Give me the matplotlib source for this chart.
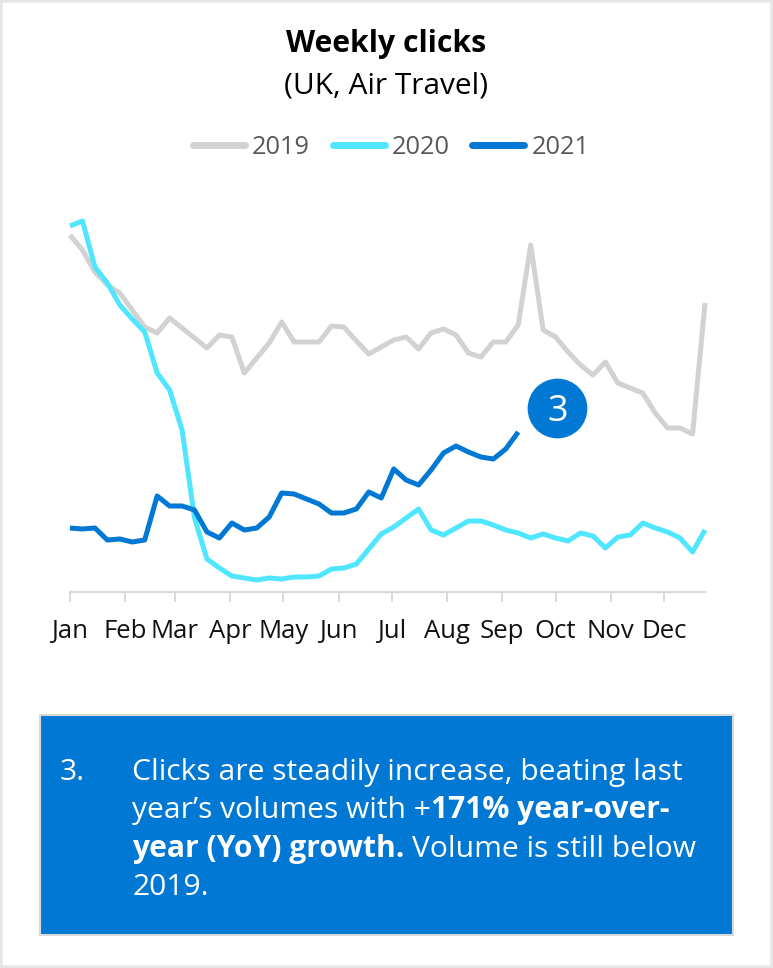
import matplotlib
matplotlib.use("Agg")
import matplotlib.pyplot as plt
import matplotlib.transforms as mtransforms
from matplotlib.patches import Rectangle
import numpy as np

plt.rcParams['font.family'] = ['Open Sans', 'DejaVu Sans']

# weekly click index, one value per week
clicks2019 = [357, 342, 320, 307, 299, 282, 265, 259, 274, 264, 254, 244, 257, 255, 219, 234,
              249, 270, 250, 250, 250, 266, 265, 251, 238, 245, 252, 255, 243, 259, 263, 257,
              239, 235, 250, 250, 267, 347, 262, 255, 240, 227, 217, 230, 209, 204, 199, 179,
              164, 164, 158, 289]
clicks2020 = [366, 371, 325, 309, 287, 273, 260, 219, 202, 162, 74, 33, 24, 16, 14, 12,
              14, 13, 15, 15, 16, 23, 24, 28, 43, 58, 65, 74, 83, 62, 57, 64,
              71, 71, 67, 62, 59, 54, 58, 54, 51, 59, 56, 44, 55, 57, 69, 64,
              60, 54, 40, 62]
clicks2021 = [64, 63, 64, 52, 53, 50, 52, 96, 86, 86, 82, 60, 54, 69, 62, 64,
              75, 99, 98, 93, 88, 79, 79, 83, 100, 94, 123, 112, 107, 122, 139, 146,
              140, 135, 133, 143, 160]

monthNames = ['Jan', 'Feb', 'Mar', 'Apr', 'May', 'Jun', 'Jul', 'Aug', 'Sep', 'Oct', 'Nov', 'Dec']
monthStartDay = [0, 31, 59, 90, 120, 151, 181, 212, 243, 273, 304, 334]

seriesNames = ['2019', '2020', '2021']
seriesColors = ['#D2D2D2', '#50E6FF', '#0078D4']

W, H = 773, 968
fig = plt.figure(figsize=(W / 100, H / 100), dpi=100)


def fx(px):
    return px / W


def fy(py):
    return 1 - py / H


# plot area: week 0 at x=70px, week 51 at x=705px, zero line at y=592px
ax = fig.add_axes([fx(70), fy(592), fx(705) - fx(70), 380 / H])
allSeries = [clicks2019, clicks2020, clicks2021]
for name, color, values in zip(seriesNames, seriesColors, allSeries):
    ax.plot(np.arange(len(values)), values, color=color, lw=3.6, label=name,
            solid_joinstyle='round', solid_capstyle='butt', clip_on=False)

ax.set_xlim(0, 51)
ax.set_ylim(0, 380)
ax.set_yticks([])
for side in ['left', 'right', 'top']:
    ax.spines[side].set_visible(False)
ax.spines['bottom'].set_color('#D9D9D9')
ax.spines['bottom'].set_linewidth(1.6)
ax.set_xticks([d / 7 for d in monthStartDay])
ax.set_xticklabels(monthNames, fontsize=18.5, color='#111111')
ax.tick_params(axis='x', length=7, width=1.4, color='#D9D9D9', pad=12.5)

# numbered marker next to the end of the 2021 line
markerTrans = mtransforms.offset_copy(ax.transData, fig=fig, x=39, y=24, units='dots')
lastX, lastY = len(clicks2021) - 1, clicks2021[-1]
ax.plot([lastX], [lastY], 'o', ms=42, color='#0078D4', transform=markerTrans, clip_on=False)
ax.text(lastX, lastY, '3', transform=markerTrans, color='white', fontsize=26,
        ha='center', va='center_baseline', clip_on=False)

leg = ax.legend(loc='center', bbox_to_anchor=(fx(391), fy(147)), bbox_transform=fig.transFigure,
                ncol=3, frameon=False, fontsize=18.3, handlelength=2.05, handletextpad=0.27,
                columnspacing=0.9)
for line in leg.get_lines():
    line.set_linewidth(5)
    line.set_solid_capstyle('round')
for t in leg.get_texts():
    t.set_color('#595959')

fig.text(0.5, fy(52), 'Weekly clicks', ha='center', va='baseline', fontsize=21.7,
         fontweight='bold', color='#000000')
fig.text(0.5, fy(93), '(UK, Air Travel)', ha='center', va='baseline', fontsize=21.5,
         color='#000000')

# callout box
fig.patches.append(Rectangle((fx(40), fy(935)), fx(733) - fx(40), (935 - 715) / H,
                             transform=fig.transFigure, facecolor='#0078D4',
                             edgecolor='#D9D9D9', lw=1.5))

renderer = fig.canvas.get_renderer()
boxSize = 21.6


def textWidth(s, weight):
    t = fig.text(0, 0, s, fontsize=boxSize, fontweight=weight)
    w = t.get_window_extent(renderer).width
    t.remove()
    return w


spaceWidth = textWidth('a a', 'normal') - textWidth('aa', 'normal')

boxLines = [
    [('Clicks are steadily increase, beating last', 'normal')],
    [('year\u2019s volumes with +', 'normal'), ('171% year-over-', 'bold')],
    [('year (YoY) growth.', 'bold'), ('Volume is still below', 'normal')],
    [('2019.', 'normal')],
]
baselines = [780, 818, 857, 895]

fig.text(fx(60), fy(baselines[0]), '3.', color='white', fontsize=boxSize, va='baseline')
for parts, base in zip(boxLines, baselines):
    x = 132
    for i, (s, weight) in enumerate(parts):
        if i > 0 and not parts[i - 1][0].endswith('+'):
            x += spaceWidth
        fig.text(fx(x), fy(base), s, color='white', fontsize=boxSize, fontweight=weight,
                 va='baseline')
        x += textWidth(s, weight)

# thin frame around the whole card
fig.patches.append(Rectangle((0, 0), 1, 1, transform=fig.transFigure, fill=False,
                             edgecolor='#E6E6E6', lw=4))

fig.savefig('out.png', dpi=100)
